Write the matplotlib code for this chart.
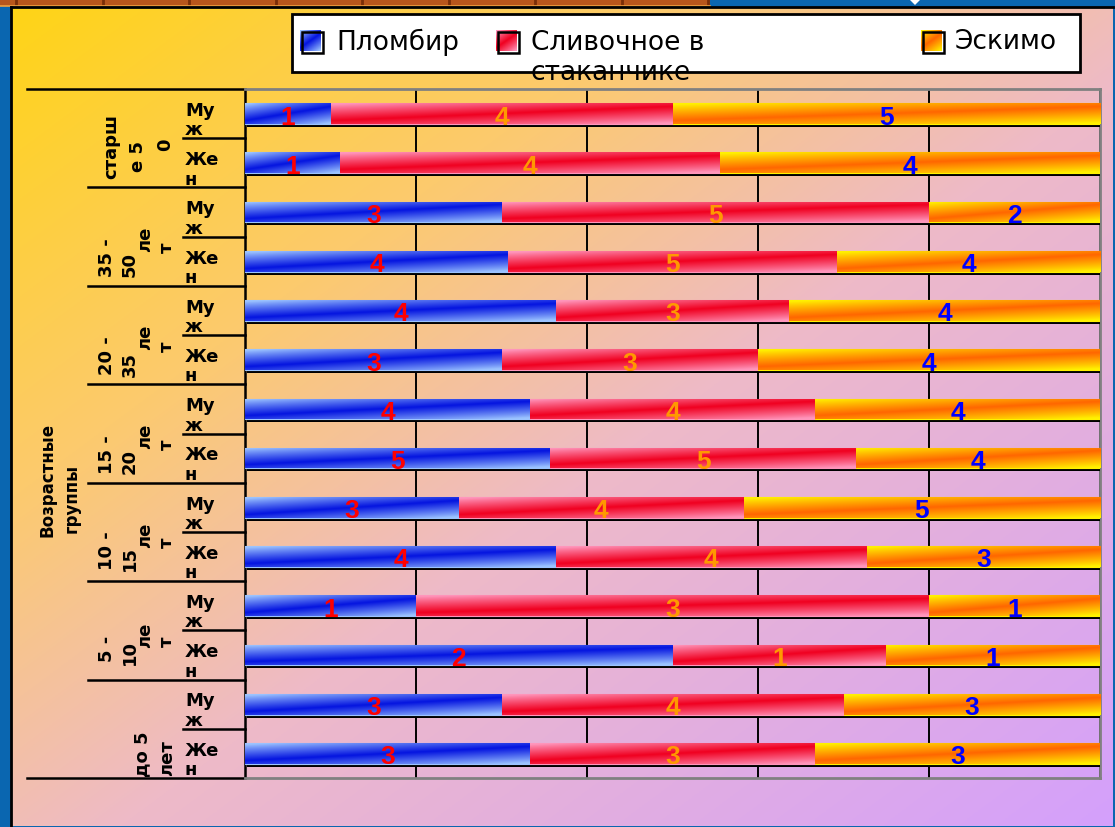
import numpy as np
import matplotlib.pyplot as plt
from matplotlib.patches import Rectangle, Polygon
from matplotlib import patheffects as pe
from matplotlib.colors import to_rgb

W, H = 1115, 828

# survey: favourite ice cream by age group and sex (rows top to bottom)
groups = ["старше 50", "35 - 50 лет", "20 - 35 лет", "15 - 20 лет",
          "10 - 15 лет", "5 - 10 лет", "до 5 лет"]
sexes = ["Муж", "Жен"]
series = ["Пломбир", "Сливочное в\nстаканчике", "Эскимо"]
plombir = [1, 1, 3, 4, 4, 3, 4, 5, 3, 4, 1, 2, 3, 3]
slivochnoe = [4, 4, 5, 5, 3, 3, 4, 5, 4, 4, 3, 1, 4, 3]
eskimo = [5, 4, 2, 4, 4, 4, 4, 4, 5, 3, 1, 1, 3, 3]
axis_title = "Возрастные\nгруппы"

# (light, dark, label colour) per series
STYLES = [
    ("#9cc4ff", "#0414e0", "#ff0000"),
    ("#ff96bc", "#f00020", "#ff9900"),
    ("#fff200", "#ff6600", "#0000ff"),
]


def band_image(light, dark, nx=160, ny=30):
    # broad diagonal dark band running from lower left to upper right
    u = np.linspace(0, 1, nx)[None, :]
    v = np.linspace(1, 0, ny)[:, None]
    d = np.abs(v - (0.15 + 0.7 * u))
    w = np.clip(1 - d / 0.8, 0, 1) ** 0.9
    lo, hi = np.array(to_rgb(light)), np.array(to_rgb(dark))
    return lo + (hi - lo) * w[..., None]


def background(nx=400, ny=300):
    x = np.linspace(0, 1, nx)[None, :]
    y = np.linspace(0, 1, ny)[:, None]
    t = (x + y) / 2
    stops = [0, 0.3, 0.55, 1.0]
    cols = np.array([(255, 212, 22), (252, 202, 110), (238, 186, 200), (212, 160, 252)]) / 255
    img = np.stack([np.interp(t, stops, cols[:, c]) for c in range(3)], axis=-1)
    return img


fig = plt.figure(figsize=(W / 100, H / 100), dpi=100)
fig.patch.set_facecolor("#0a66b0")

# --- decoration layer in pixel coordinates ---
bg = fig.add_axes([0, 0, 1, 1], zorder=0)
bg.set_xlim(0, W)
bg.set_ylim(H, 0)
bg.axis("off")
bg.imshow(background(), extent=(11, 1113, 827, 8), origin="upper", aspect="auto")
bg.add_patch(Rectangle((0, 0), 710, 7, fc="#b8561c", ec="none"))
for sx in np.arange(16, 710, 86.5):
    bg.plot([sx, sx], [0, 7], color="#7a2e08", lw=2)
bg.plot([0, 710], [6.5, 6.5], color="#f0a040", lw=1.2)
bg.add_patch(Polygon([(909, 0), (921, 0), (915, 6)], fc="white", ec="none"))
bg.plot([11, 11], [8, 827], color="black", lw=2)
bg.plot([11, 1113], [8, 8], color="black", lw=2)

# legend box
bg.add_patch(Rectangle((292, 15), 788, 58, fc="white", ec="black", lw=2, zorder=2))
for (lx, tx, ty), name, (light, dark, _) in zip(
        [(300, 336, 42), (496, 531, 58), (921, 955, 42)], series, STYLES):
    im = bg.imshow(band_image(light, dark, 30, 30), extent=(lx, lx + 21, 52, 31),
                   origin="upper", aspect="auto", zorder=3)
    bg.add_patch(Rectangle((lx + 2, 33), 21, 21, fc="none", ec="black", lw=1.8, zorder=4))
    bg.text(tx, ty, name, ha="left", va="center", fontsize=19,
            family="DejaVu Sans", linespacing=1.2, zorder=5)

# --- bars ---
ax = fig.add_axes([245 / W, 1 - 779 / H, 855 / W, 689 / H], zorder=1)
ax.set_facecolor("none")

data = np.array([plombir, slivochnoe, eskimo], dtype=float)
shares = data / data.sum(axis=0)
n = data.shape[1]
y = np.arange(n)
left = np.zeros(n)
for vals, part, (light, dark, lab_col) in zip(data, shares, STYLES):
    bars = ax.barh(y, part, left=left, height=0.42, color=dark, edgecolor=light,
                   linewidth=0.8, zorder=3)
    for rect, v in zip(bars, vals):
        rect.set_path_effects([pe.SimplePatchShadow(offset=(1.6, -2.2), shadow_rgbFace="black",
                                                    alpha=1.0), pe.Normal()])
        x0, yb, w, h = rect.get_x(), rect.get_y(), rect.get_width(), rect.get_height()
        im = ax.imshow(band_image(light, dark), extent=(x0, x0 + w, yb + h, yb),
                       origin="upper", aspect="auto", zorder=4, interpolation="bilinear")
        im.set_clip_path(rect)
        ax.text(x0 + w / 2, yb + h / 2 + 0.06, f"{v:g}", ha="center", va="center",
                color=lab_col, fontsize=19, fontweight="bold", family="Liberation Sans",
                zorder=6)
    left += part

ax.set_xlim(0, 1)
ax.set_ylim(n - 0.5, -0.5)
ax.set_xticks(np.linspace(0, 1, 6))
ax.set_yticks([])
ax.tick_params(axis="x", length=0, labelbottom=False)
ax.xaxis.grid(True, color="black", linewidth=1.4)
ax.set_axisbelow(True)
for side in ["top", "right", "bottom"]:
    ax.spines[side].set_color("#808080")
    ax.spines[side].set_linewidth(2)
ax.spines["left"].set_color("black")
ax.spines["left"].set_linewidth(1.8)

# --- two-level category axis ---
tr = ax.get_yaxis_transform()
px = lambda p: (p - 245) / 855          # pixel x -> axes fraction
row_px = 689 / n                         # pixel height of one row

for b in np.arange(0.5, n - 1, 2):
    ax.plot([px(183), 0], [b, b], transform=tr, clip_on=False, color="black", lw=1.8)
for b in np.arange(1.5, n - 1, 2):
    ax.plot([px(88), 0], [b, b], transform=tr, clip_on=False, color="black", lw=1.8)
for b in [-0.5, n - 0.5]:
    ax.plot([px(27), 0], [b, b], transform=tr, clip_on=False, color="black", lw=1.8)

for i in range(n):
    s = sexes[i % 2]
    ax.text(px(185), i + 6 / row_px, s[:2] + "\n" + s[2:], transform=tr, ha="left",
            va="center", fontsize=13, fontweight="bold", family="DejaVu Sans",
            linespacing=1.1)

# wrapped group names: (pixel x, pixel offset from group centre, text)
pieces = [
    [(111, 7, "старш"), (138, 17, "е 5"), (165, 6, "0")],
    [(107, 20, "35 -"), (130, 27, "50"), (145, 2, "ле"), (167, 10, "т")],
    [(107, 20, "20 -"), (130, 28, "35"), (145, 1, "ле"), (167, 11, "т")],
    [(107, 20, "15 -"), (130, 27, "20"), (145, 2, "ле"), (167, 10, "т")],
    [(107, 18, "10 -"), (130, 26, "15"), (145, 2, "ле"), (167, 10, "т")],
    [(107, 18, "5 -"), (130, 21, "10"), (145, 4, "ле"), (167, 10, "т")],
    [(142, 24, "до 5"), (167, 28, "лет")],
]
for g, parts in enumerate(pieces):
    centre = 2 * g + 0.5
    for xp, dy, txt in parts:
        ax.text(px(xp), centre + dy / row_px, txt, transform=tr, rotation=90,
                ha="center", va="center", fontsize=13, fontweight="bold",
                family="DejaVu Sans")

title_y = (480 - 90) / row_px - 0.5
ax.text(px(48), title_y, axis_title.split("\n")[0], transform=tr, rotation=90,
        ha="center", va="center", fontsize=12, fontweight="bold", family="DejaVu Sans")
ax.text(px(72), title_y + 18 / row_px, axis_title.split("\n")[1], transform=tr, rotation=90,
        ha="center", va="center", fontsize=12, fontweight="bold", family="DejaVu Sans")

fig.savefig("out.png", dpi=100, facecolor=fig.get_facecolor())
